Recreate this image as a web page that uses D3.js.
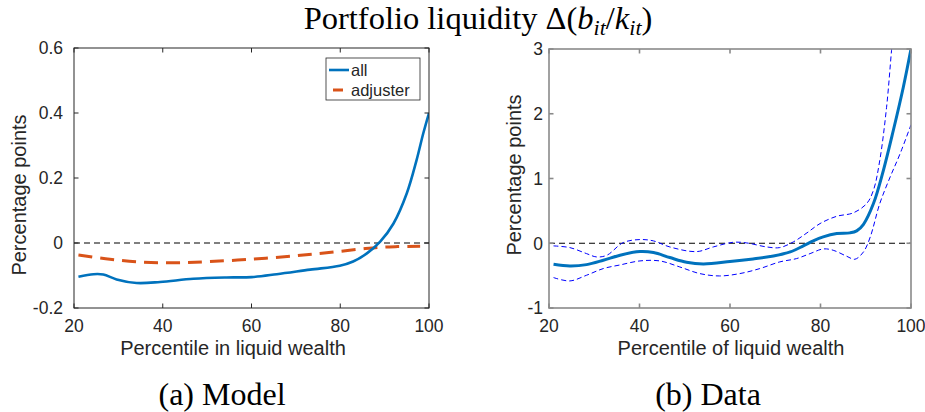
<!DOCTYPE html>
<html>
<head>
<meta charset="utf-8">
<script src="https://cdn.jsdelivr.net/npm/d3@7"></script>
<style>
  html, body { margin: 0; padding: 0; background: #fff; }
  svg { display: block; }
  .tick-label { font-family: "Liberation Sans", Arial, sans-serif; font-size: 17.5px; fill: #262626; }
  .axis-label { font-family: "Liberation Sans", Arial, sans-serif; font-size: 20px; fill: #262626; }
  .serif { font-family: "Liberation Serif", "Times New Roman", serif; fill: #000; }
</style>
</head>
<body>
<svg id="chart" width="925" height="412"></svg>
<script>
// ---- Panel (a): model ----
const modelX      = [21, 24.4, 26.6, 29.6, 34.1, 39.4, 46.9, 54.4, 60, 65.7, 73.2, 79.9, 82.9, 86, 89, 92, 95, 97.2, 98.7, 100];
const modelAll    = [-0.104, -0.096, -0.097, -0.112, -0.123, -0.120, -0.110, -0.106, -0.105, -0.096, -0.082, -0.070, -0.057, -0.032, 0.004, 0.060, 0.153, 0.255, 0.337, 0.40];
const adjusterX   = [21, 28.1, 35.6, 43.1, 50.6, 60, 69.4, 76.9, 84.4, 89, 93, 98];
const adjusterVal = [-0.037, -0.050, -0.059, -0.061, -0.057, -0.050, -0.040, -0.030, -0.019, -0.013, -0.011, -0.010];
const modelXTicks = [20, 40, 60, 80, 100];
const modelYTicks = [-0.2, 0, 0.2, 0.4, 0.6];
const modelYLabels = ["-0.2", "0", "0.2", "0.4", "0.6"];

// ---- Panel (b): data ----
const dataX     = [21, 24.6, 28.3, 32, 35.7, 40.1, 43.1, 46.7, 50.4, 54.1, 60, 65.1, 69.6, 73.3, 76.2, 78.4, 80.6, 83.6, 86.5, 88, 89.5, 91.7, 93.9, 96.1, 98.3, 100];
const dataMean  = [-0.324, -0.350, -0.330, -0.263, -0.185, -0.129, -0.144, -0.221, -0.293, -0.319, -0.283, -0.242, -0.196, -0.134, -0.041, 0.036, 0.098, 0.149, 0.160, 0.191, 0.293, 0.613, 1.127, 1.745, 2.41, 3.0];
const upperX    = [21, 24.6, 28.3, 30.5, 32.8, 36.4, 40.1, 43.1, 46.7, 52.6, 56.3, 60.7, 63.7, 68.1, 71, 74, 77, 79.9, 83.6, 87.2, 90.2, 91.7, 93.1, 94.6, 95.7, 96.5, 97.2];
const upperVal  = [-0.041, -0.067, -0.160, -0.211, -0.185, 0.010, 0.057, 0.036, -0.057, -0.129, -0.057, 0.015, 0.005, -0.057, -0.067, 0.021, 0.160, 0.304, 0.417, 0.468, 0.613, 0.819, 1.28, 2.10, 2.98, 3.6, 4.2];
const lowerX    = [21, 24.6, 28.3, 32, 35.7, 40.1, 44.5, 48.9, 53.3, 57.7, 62.2, 66.6, 71, 74.7, 77.7, 80.6, 82.8, 85.8, 87.6, 89.5, 91, 93.1, 95.4, 97.6, 100];
const lowerVal  = [-0.530, -0.582, -0.494, -0.391, -0.335, -0.273, -0.273, -0.366, -0.468, -0.505, -0.468, -0.391, -0.288, -0.237, -0.160, -0.088, -0.108, -0.201, -0.247, -0.134, 0.098, 0.613, 1.024, 1.385, 1.83];
const dataXTicks = [20, 40, 60, 80, 100];
const dataYTicks = [-1, 0, 1, 2, 3];
const dataYLabels = ["-1", "0", "1", "2", "3"];

const blue = "#0072BD", orange = "#D95319", ciBlue = "#0000FF";
const svg = d3.select("#chart");

function zip(xs, ys) { return xs.map((x, i) => [x, ys[i]]); }

function drawPanel(opt) {
  const x = d3.scaleLinear().domain([20, 100]).range([opt.left, opt.right]);
  const y = d3.scaleLinear().domain(opt.yDomain).range([opt.bottom, opt.top]);
  const g = svg.append("g");
  const clipId = "clip-" + opt.id;
  svg.append("clipPath").attr("id", clipId).append("rect")
    .attr("x", opt.left).attr("y", opt.top)
    .attr("width", opt.right - opt.left).attr("height", opt.bottom - opt.top);

  // zero reference line
  g.append("line")
    .attr("x1", x(20)).attr("x2", x(100)).attr("y1", y(0)).attr("y2", y(0))
    .attr("stroke", "#000").attr("stroke-width", 1.1).attr("stroke-dasharray", "6,4");

  const line = d3.line().x(d => x(d[0])).y(d => y(d[1])).curve(d3.curveCatmullRom.alpha(0.5));
  const plot = g.append("g").attr("clip-path", `url(#${clipId})`);
  opt.series.forEach(s => {
    plot.append("path").datum(zip(s.x, s.y))
      .attr("d", line).attr("fill", "none")
      .attr("stroke", s.color).attr("stroke-width", s.width)
      .attr("stroke-dasharray", s.dash || null)
      .attr("stroke-linejoin", "round");
  });

  // box with inward ticks on all sides
  const ax = g.append("g");
  ax.append("rect").attr("x", opt.left).attr("y", opt.top)
    .attr("width", opt.right - opt.left).attr("height", opt.bottom - opt.top)
    .attr("fill", "none").attr("stroke", opt.axisColor).attr("stroke-width", opt.axisWidth);
  const tl = 4.5;
  opt.xTicks.forEach(t => {
    ax.append("line").attr("x1", x(t)).attr("x2", x(t)).attr("y1", opt.bottom).attr("y2", opt.bottom - tl)
      .attr("stroke", opt.axisColor).attr("stroke-width", opt.axisWidth);
    ax.append("line").attr("x1", x(t)).attr("x2", x(t)).attr("y1", opt.top).attr("y2", opt.top + tl)
      .attr("stroke", opt.axisColor).attr("stroke-width", opt.axisWidth);
    ax.append("text").attr("class", "tick-label").attr("x", x(t)).attr("y", opt.bottom + 24)
      .attr("text-anchor", "middle").text(t);
  });
  opt.yTicks.forEach((t, i) => {
    ax.append("line").attr("x1", opt.left).attr("x2", opt.left + tl).attr("y1", y(t)).attr("y2", y(t))
      .attr("stroke", opt.axisColor).attr("stroke-width", opt.axisWidth);
    ax.append("line").attr("x1", opt.right).attr("x2", opt.right - tl).attr("y1", y(t)).attr("y2", y(t))
      .attr("stroke", opt.axisColor).attr("stroke-width", opt.axisWidth);
    ax.append("text").attr("class", "tick-label").attr("x", opt.left - opt.yLabelGap).attr("y", y(t))
      .attr("dy", "0.36em").attr("text-anchor", "end").text(opt.yLabels[i]);
  });

  g.append("text").attr("class", "axis-label").attr("x", opt.xLabelX).attr("y", 355)
    .attr("text-anchor", "middle").text(opt.xLabel);
  g.append("text").attr("class", "axis-label")
    .attr("transform", `translate(${opt.yLabelX},${opt.yLabelY}) rotate(-90)`)
    .attr("text-anchor", "middle").text("Percentage points");
  g.append("text").attr("class", "serif").attr("x", opt.captionX).attr("y", 405)
    .attr("text-anchor", "middle").style("font-size", "32px").text(opt.caption);
  return { x, y };
}

drawPanel({
  id: "model", left: 74, right: 429, top: 48, bottom: 308,
  yDomain: [-0.2, 0.6], xTicks: modelXTicks, yTicks: modelYTicks, yLabels: modelYLabels,
  axisColor: "#262626", axisWidth: 1, yLabelGap: 11,
  xLabel: "Percentile in liquid wealth", xLabelX: 233,
  yLabelX: 26, yLabelY: 195, caption: "(a) Model", captionX: 222,
  series: [
    { x: adjusterX, y: adjusterVal, color: orange, width: 3, dash: "14,8" },
    { x: modelX, y: modelAll, color: blue, width: 2.6 }
  ]
});

drawPanel({
  id: "data", left: 549, right: 911, top: 49, bottom: 308,
  yDomain: [-1, 3], xTicks: dataXTicks, yTicks: dataYTicks, yLabels: dataYLabels,
  axisColor: "#8a8a8a", axisWidth: 1.6, yLabelGap: 6,
  xLabel: "Percentile of liquid wealth", xLabelX: 731,
  yLabelX: 521, yLabelY: 175, caption: "(b) Data", captionX: 708,
  series: [
    { x: upperX, y: upperVal, color: ciBlue, width: 1, dash: "5,3" },
    { x: lowerX, y: lowerVal, color: ciBlue, width: 1, dash: "5,3" },
    { x: dataX, y: dataMean, color: blue, width: 3 }
  ]
});

// legend for panel (a)
const leg = svg.append("g");
leg.append("rect").attr("x", 326).attr("y", 58).attr("width", 94).attr("height", 42)
  .attr("fill", "#fff").attr("stroke", "#262626").attr("stroke-width", 0.8);
leg.append("line").attr("x1", 329).attr("x2", 349).attr("y1", 70).attr("y2", 70)
  .attr("stroke", blue).attr("stroke-width", 2.6);
leg.append("line").attr("x1", 333).attr("x2", 343).attr("y1", 90).attr("y2", 90)
  .attr("stroke", orange).attr("stroke-width", 3);
leg.append("text").attr("class", "tick-label").attr("x", 351).attr("y", 70).attr("dy", "0.36em")
  .style("font-size", "16.5px").text("all");
leg.append("text").attr("class", "tick-label").attr("x", 351).attr("y", 90).attr("dy", "0.36em")
  .style("font-size", "16.5px").text("adjuster");

// overall title with math subscripts
const title = svg.append("text").attr("class", "serif").attr("x", 478).attr("y", 29)
  .attr("text-anchor", "middle").style("font-size", "32.5px");
title.append("tspan").text("Portfolio liquidity Δ(");
title.append("tspan").attr("font-style", "italic").text("b");
title.append("tspan").attr("font-style", "italic").attr("dy", 6).style("font-size", "22px").text("it");
title.append("tspan").attr("dy", -6).text("/");
title.append("tspan").attr("font-style", "italic").text("k");
title.append("tspan").attr("font-style", "italic").attr("dy", 6).style("font-size", "22px").text("it");
title.append("tspan").attr("dy", -6).text(")");
</script>
</body>
</html>
